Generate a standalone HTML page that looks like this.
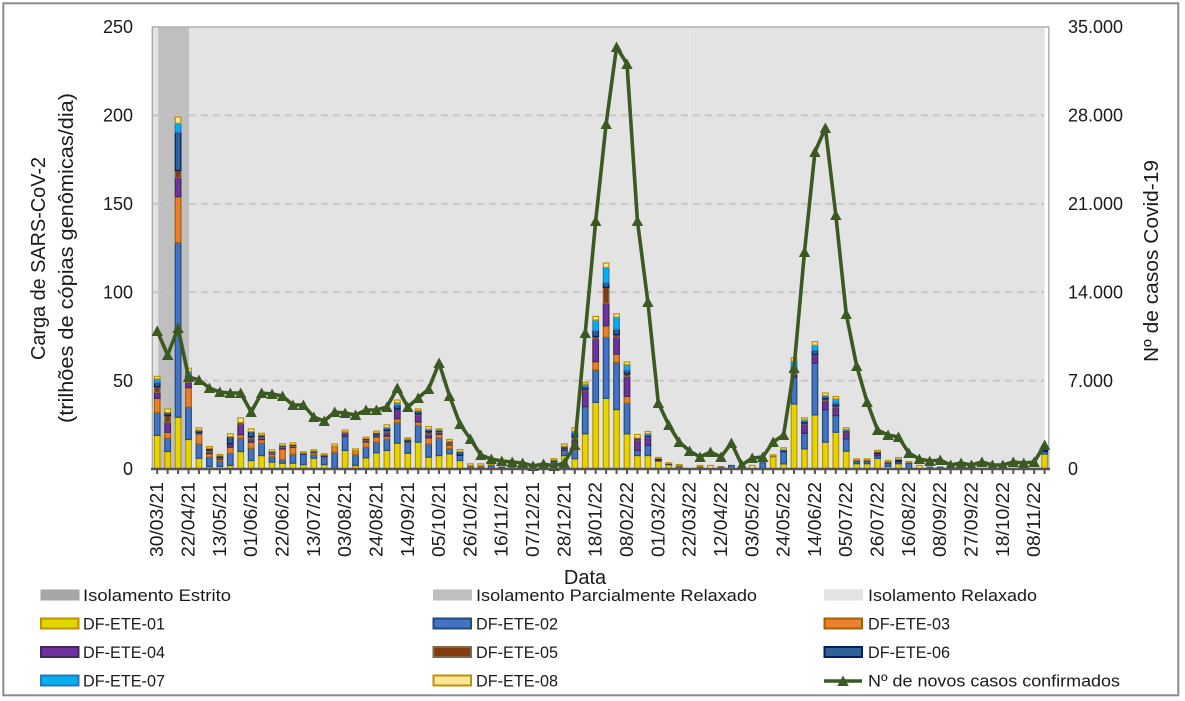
<!DOCTYPE html>
<html>
<head>
<meta charset="utf-8">
<style>
html,body{margin:0;padding:0;background:#fff;}
svg{display:block;}
text{font-family:"Liberation Sans",sans-serif;fill:#1a1a1a;}
</style>
</head>
<body>
<svg width="1185" height="701" viewBox="0 0 1185 701" xmlns="http://www.w3.org/2000/svg">
<defs>
<marker id="tri" markerUnits="userSpaceOnUse" markerWidth="12" markerHeight="12" viewBox="0 0 12 12" refX="5.5" refY="5.5" orient="0">
<path d="M5.5 0 L11.2 10.5 L-0.2 10.5 Z" fill="#3a5a22"/>
</marker>
</defs>
<rect x="0" y="0" width="1185" height="701" fill="#fff"/>
<rect x="3.3" y="3.3" width="1175" height="692" fill="none" stroke="#8a8a8a" stroke-width="2"/>

<!-- plot area -->
<rect x="152" y="27" width="892.6" height="442" fill="#e3e3e3"/>
<rect x="158.3" y="27" width="30.7" height="442" fill="#bfbfbf"/>
<line x1="689.5" y1="28" x2="689.5" y2="237" stroke="#ededed" stroke-width="1"/>

<!-- grid -->
<g stroke="#c6c6c6" stroke-width="2" stroke-dasharray="7 5">
<line x1="153" y1="115.4" x2="1044" y2="115.4"/>
<line x1="153" y1="203.8" x2="1044" y2="203.8"/>
<line x1="153" y1="292.2" x2="1044" y2="292.2"/>
<line x1="153" y1="380.6" x2="1044" y2="380.6"/>
</g>
<line x1="152" y1="27" x2="1049" y2="27" stroke="#b0b0b0" stroke-width="1.5"/>
<line x1="152.3" y1="26.5" x2="152.3" y2="469" stroke="#a6a6a6" stroke-width="1.3"/>
<line x1="1048.8" y1="26.5" x2="1048.8" y2="469" stroke="#a6a6a6" stroke-width="1.3"/>

<!-- bars -->
<g id="bars"></g>

<!-- covid line -->
<polyline fill="none" stroke="#3a5a22" stroke-width="3.6" stroke-linejoin="round" marker-start="url(#tri)" marker-mid="url(#tri)" marker-end="url(#tri)" points="157.2,331 167.64,355 178.08,328 188.52,377 198.96,380 209.4,388 219.84,392 230.28,393 240.72,393 251.16,412 261.6,393 272.04,394 282.48,396 292.92,405 303.36,405 313.8,417 324.24,421 334.68,412 345.12,413 355.56,415 366,410 376.44,410 386.88,407 397.32,388 407.76,407 418.2,398 428.64,389 439.08,363 449.52,396 459.96,424 470.4,439 480.84,455 491.28,459 501.72,461 512.16,462 522.6,463 533.04,466 543.48,464 553.92,466 564.36,463 574.8,445 585.24,333 595.68,221 606.12,124 616.56,47 627,64 637.44,221 647.88,302 658.32,403 668.76,425 679.2,442 689.64,451 700.08,457 710.52,452 720.96,457 731.4,443 741.84,465 752.28,458 762.72,457 773.16,442 783.6,435 794.04,368 804.48,252 814.92,152 825.36,128 835.8,215 846.24,314 856.68,366 867.12,402 877.56,430 888,435 898.44,437 908.88,453 919.32,459 929.76,461 940.2,460 950.64,465 961.08,463 971.52,465 981.96,462 992.4,465 1002.84,465 1013.28,462 1023.72,463 1034.16,462 1044.6,445"/>

<!-- x axis -->
<line x1="151" y1="469" x2="1050" y2="469" stroke="#555" stroke-width="2.5"/>
<line x1="156.2" y1="471.5" x2="1046" y2="471.5" stroke="#555" stroke-width="5" stroke-dasharray="2 8.44"/>

<!-- left tick labels -->
<g font-size="18" text-anchor="end">
<text x="133" y="33">250</text>
<text x="133" y="121.5">200</text>
<text x="133" y="210">150</text>
<text x="133" y="298.5">100</text>
<text x="133" y="387">50</text>
<text x="133" y="475">0</text>
</g>
<!-- right tick labels -->
<g font-size="18" text-anchor="start">
<text x="1068" y="33">35.000</text>
<text x="1068" y="121.5">28.000</text>
<text x="1068" y="210">21.000</text>
<text x="1068" y="298.5">14.000</text>
<text x="1068" y="387">7.000</text>
<text x="1068" y="475">0</text>
</g>

<!-- axis titles -->
<text font-size="20" text-anchor="middle" transform="translate(45,258.5) rotate(-90)" textLength="203" lengthAdjust="spacingAndGlyphs">Carga de SARS-CoV-2</text>
<text font-size="20" text-anchor="middle" transform="translate(73,258) rotate(-90)" textLength="330" lengthAdjust="spacingAndGlyphs">(trilhões de cópias genômicas/dia)</text>
<text font-size="20" text-anchor="middle" transform="translate(1158,261) rotate(-90)" textLength="202" lengthAdjust="spacingAndGlyphs">Nº de casos Covid-19</text>
<text font-size="20" text-anchor="middle" x="585" y="584">Data</text>

<!-- x labels -->
<g font-size="18" text-anchor="end">
<text transform="translate(163.2,482) rotate(-90)" textLength="75" lengthAdjust="spacingAndGlyphs">30/03/21</text>
<text transform="translate(194.5,482) rotate(-90)" textLength="75" lengthAdjust="spacingAndGlyphs">22/04/21</text>
<text transform="translate(225.8,482) rotate(-90)" textLength="75" lengthAdjust="spacingAndGlyphs">13/05/21</text>
<text transform="translate(257.2,482) rotate(-90)" textLength="75" lengthAdjust="spacingAndGlyphs">01/06/21</text>
<text transform="translate(288.5,482) rotate(-90)" textLength="75" lengthAdjust="spacingAndGlyphs">22/06/21</text>
<text transform="translate(319.8,482) rotate(-90)" textLength="75" lengthAdjust="spacingAndGlyphs">13/07/21</text>
<text transform="translate(351.1,482) rotate(-90)" textLength="75" lengthAdjust="spacingAndGlyphs">03/08/21</text>
<text transform="translate(382.4,482) rotate(-90)" textLength="75" lengthAdjust="spacingAndGlyphs">24/08/21</text>
<text transform="translate(413.8,482) rotate(-90)" textLength="75" lengthAdjust="spacingAndGlyphs">14/09/21</text>
<text transform="translate(445.1,482) rotate(-90)" textLength="75" lengthAdjust="spacingAndGlyphs">05/10/21</text>
<text transform="translate(476.4,482) rotate(-90)" textLength="75" lengthAdjust="spacingAndGlyphs">26/10/21</text>
<text transform="translate(507.7,482) rotate(-90)" textLength="75" lengthAdjust="spacingAndGlyphs">16/11/21</text>
<text transform="translate(539.0,482) rotate(-90)" textLength="75" lengthAdjust="spacingAndGlyphs">07/12/21</text>
<text transform="translate(570.4,482) rotate(-90)" textLength="75" lengthAdjust="spacingAndGlyphs">28/12/21</text>
<text transform="translate(601.7,482) rotate(-90)" textLength="75" lengthAdjust="spacingAndGlyphs">18/01/22</text>
<text transform="translate(633.0,482) rotate(-90)" textLength="75" lengthAdjust="spacingAndGlyphs">08/02/22</text>
<text transform="translate(664.3,482) rotate(-90)" textLength="75" lengthAdjust="spacingAndGlyphs">01/03/22</text>
<text transform="translate(695.6,482) rotate(-90)" textLength="75" lengthAdjust="spacingAndGlyphs">22/03/22</text>
<text transform="translate(727.0,482) rotate(-90)" textLength="75" lengthAdjust="spacingAndGlyphs">12/04/22</text>
<text transform="translate(758.3,482) rotate(-90)" textLength="75" lengthAdjust="spacingAndGlyphs">03/05/22</text>
<text transform="translate(789.6,482) rotate(-90)" textLength="75" lengthAdjust="spacingAndGlyphs">24/05/22</text>
<text transform="translate(820.9,482) rotate(-90)" textLength="75" lengthAdjust="spacingAndGlyphs">14/06/22</text>
<text transform="translate(852.2,482) rotate(-90)" textLength="75" lengthAdjust="spacingAndGlyphs">05/07/22</text>
<text transform="translate(883.6,482) rotate(-90)" textLength="75" lengthAdjust="spacingAndGlyphs">26/07/22</text>
<text transform="translate(914.9,482) rotate(-90)" textLength="75" lengthAdjust="spacingAndGlyphs">16/08/22</text>
<text transform="translate(946.2,482) rotate(-90)" textLength="75" lengthAdjust="spacingAndGlyphs">08/09/22</text>
<text transform="translate(977.5,482) rotate(-90)" textLength="75" lengthAdjust="spacingAndGlyphs">27/09/22</text>
<text transform="translate(1008.8,482) rotate(-90)" textLength="75" lengthAdjust="spacingAndGlyphs">18/10/22</text>
<text transform="translate(1040.2,482) rotate(-90)" textLength="75" lengthAdjust="spacingAndGlyphs">08/11/22</text>
</g>

<!-- legend -->
<rect x="40.5" y="589.5" width="39" height="11" fill="#a6a6a6"/>
<rect x="433" y="589.5" width="39" height="11" fill="#bfbfbf"/>
<rect x="824" y="589.5" width="39" height="11" fill="#e3e3e3"/>
<g stroke-width="2">
<rect x="41" y="618.5" width="37.5" height="10" fill="#e2d600" stroke="#bf9000"/>
<rect x="433.5" y="618.5" width="37.5" height="10" fill="#4472c4" stroke="#1f4e79"/>
<rect x="824.5" y="618.5" width="37.5" height="10" fill="#ed7d31" stroke="#9c6500"/>
<rect x="41" y="647" width="37.5" height="10" fill="#7030a0" stroke="#3f2c55"/>
<rect x="433.5" y="647" width="37.5" height="10" fill="#843c0c" stroke="#7a6a4a"/>
<rect x="824.5" y="647" width="37.5" height="10" fill="#2e6099" stroke="#002060"/>
<rect x="41" y="675.5" width="37.5" height="10" fill="#00b0f0" stroke="#2e75b6"/>
<rect x="433.5" y="675.5" width="37.5" height="10" fill="#ffe699" stroke="#bf9000"/>
</g>
<line x1="824" y1="681" x2="862" y2="681" stroke="#3a5a22" stroke-width="3.6"/>
<path d="M843 675.5 L848.7 686 L837.3 686 Z" fill="#3a5a22"/>
<g font-size="17">
<text x="83" y="601" textLength="148" lengthAdjust="spacingAndGlyphs">Isolamento Estrito</text>
<text x="476" y="601" textLength="281" lengthAdjust="spacingAndGlyphs">Isolamento Parcialmente Relaxado</text>
<text x="868" y="601" textLength="169" lengthAdjust="spacingAndGlyphs">Isolamento Relaxado</text>
<text x="83" y="629.5" textLength="82" lengthAdjust="spacingAndGlyphs">DF-ETE-01</text>
<text x="476" y="629.5" textLength="82" lengthAdjust="spacingAndGlyphs">DF-ETE-02</text>
<text x="868" y="629.5" textLength="82" lengthAdjust="spacingAndGlyphs">DF-ETE-03</text>
<text x="83" y="658" textLength="82" lengthAdjust="spacingAndGlyphs">DF-ETE-04</text>
<text x="476" y="658" textLength="82" lengthAdjust="spacingAndGlyphs">DF-ETE-05</text>
<text x="868" y="658" textLength="82" lengthAdjust="spacingAndGlyphs">DF-ETE-06</text>
<text x="83" y="686.5" textLength="82" lengthAdjust="spacingAndGlyphs">DF-ETE-07</text>
<text x="476" y="686.5" textLength="82" lengthAdjust="spacingAndGlyphs">DF-ETE-08</text>
<text x="868" y="686.5" textLength="252" lengthAdjust="spacingAndGlyphs">Nº de novos casos confirmados</text>
</g>
</svg>
<script>
(function(){
var B=[
[19,13,8,3.4,3.2,2.4,2,1.4],
[9.9,7.5,3.4,5.6,3.8,1.8,0,2],
[29.3,98.7,26,10.8,4,21.6,5.2,3.5],
[16.7,18.3,11,3,2,2,2,2],
[6.1,8.1,5.3,0,1,1.5,0,1.3],
[1.4,5.3,2,1,1,1,0,1],
[1.5,3,1,0.5,0.5,1,0,0.7],
[2,6.9,3.4,2,0,4,0,1.6],
[9.9,7.5,2,6,1,0,0,2.5],
[4.8,7,3.4,2,1,3,0,1.5],
[7.6,7,2,1,1,0.6,0,1],
[3.9,3,1.5,0.5,0.5,0.4,0,1],
[3.3,2,6,1,0.5,0.4,0,1],
[3.3,5,4,0.5,0.5,0.5,0,1],
[2.5,6,0,0,0,0.5,0,0.7],
[6.1,2,1,0,0.5,0.5,0,0.7],
[2.5,4,0.5,0.5,0,0.4,0,0.7],
[0.5,9,3.5,0,0,0,0,1.2],
[10.5,8,0,2,0.6,0,0,1],
[2,6,2.4,0,0,0,0,1],
[6.3,6,3,1,0.5,0.4,0,0.8],
[9.2,6,3,1,0.5,0.7,0,1],
[10.5,6.5,1.5,2.3,1,1.2,0.5,1.5],
[14.6,11.8,2,5.6,0,2,1.5,1.5],
[8.9,6,0.5,0.5,0,0.5,0.5,0.7],
[15.2,9.4,2,4,0.5,1.5,0.5,0.9],
[6.7,7.5,3.5,2,1.3,1,0.5,1.5],
[7.6,10,2,1.2,0.5,0.4,0.5,0.5],
[8.6,3,2,0.5,1.6,0,0,1],
[4.8,3,0,0,0,2,0,1.2],
[0.5,1,0,0,0.4,0,0,1],
[0.5,1,0,0,0.4,0,0,1],
[0,2,0,0.3,0,0,0,0.2],
[0,0.7,0,0.3,0,0,0,0],
[0,0.6,0,0,0.4,0,0,0],
[0,0.5,0,0,0,0,0,0],
[0,0.3,0,0,0,0,0,0],
[0,0.5,0,0,0,0,0,0],
[2,2.5,0,0,0,0.5,0,0.8],
[7.6,3,0,0.8,0.5,0.5,0.5,1.3],
[5.8,5,1,5,1.5,2,1,2],
[19.9,15.4,0,9.4,0.5,1.3,1.5,1],
[37.7,18.3,4.7,12.8,1.5,3.2,6.1,2],
[40,34.5,6.5,12.7,9,2.5,8.8,2.5],
[33.6,26.7,4.7,9.5,1.5,3,6.9,1.9],
[19.9,17.3,3.9,11.2,1.5,2,3.2,1.5],
[7.6,3,0,5.9,0.5,0.5,0,2],
[7.6,5.7,0,4.7,0.5,0.5,1,1.2],
[4.5,0.5,0,0.5,0,0.5,0,0.5],
[2.5,0,0,0,0,0.5,0,0.5],
[0.5,1,0,0,0.5,0,0,0.5],
[],
[0,0,0,0,1.5,0,0,0.5],
[0,0,0,0,0,0,0,2],
[0,0,0,0,1.3,0,0,0],
[0,2],
[],
[0,0,0,0,0,0,0,2],
[0,3.5],
[7,0,0,0,0.5,0,0,0.5],
[2.9,7,0,0,0,0.6,0.5,1],
[36.8,15.1,0,2,1,2,4,2],
[11.4,8.8,0,5.3,0.5,0.8,1,1.1],
[30.6,29.2,0,4.3,0.5,2.4,3,2],
[15.2,18.4,0,5.1,1,1,0.8,1.5],
[20.8,9.4,0,4.7,0.8,1.5,2.5,1.3],
[10.1,6.9,0,3.5,0.5,0.5,0.8,1],
[3,1.5,0,0.5,0,0,0,0.7],
[3,1.5,0,0.5,0,0,0,0.7],
[6,1.5,0,1.5,0,0.7,0,0.8],
[1.5,2,0,0,0,0.5,0,0.8],
[3,1,0,0.7,0,0.8,0,1],
[0,3.5,0,0.3,0,0,0,0.4],
[0,0,0,0,0,0,0,2],
[0,1],
[0,1],
[],[],[],[],[],[],[],[],[],
[8.5,1.5,0,0,0,0.5,0,0]
];
var C=[['#e2d600','#bf9000'],['#4472c4','#1f4e79'],['#ed7d31','#9c6500'],['#7030a0','#3f2c55'],['#843c0c','#7a6a4a'],['#2e6099','#002060'],['#00b0f0','#2e75b6'],['#ffe699','#bf9000']];
var s='';
for(var i=0;i<B.length;i++){
  var cx=157.2+10.44*i,cum=0,b=B[i];
  for(var k=0;k<b.length;k++){
    var h=b[k]; if(!(h>0)) continue;
    var y0=469-(cum+h)*1.768;
    s+='<rect x="'+(cx-2.8).toFixed(2)+'" y="'+y0.toFixed(2)+'" width="5.6" height="'+(h*1.768).toFixed(2)+'" fill="'+C[k][0]+'" stroke="'+C[k][1]+'" stroke-width="1.2"/>';
    cum+=h;
  }
}
document.getElementById('bars').innerHTML=s;
})();
</script>
</body>
</html>
